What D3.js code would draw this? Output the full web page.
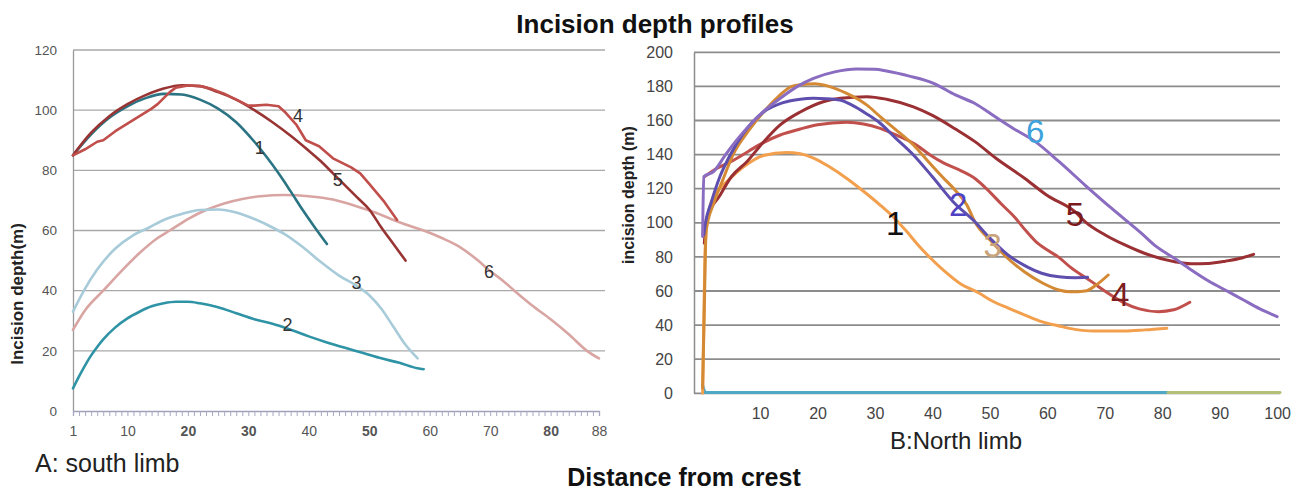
<!DOCTYPE html>
<html>
<head>
<meta charset="utf-8">
<script src="https://cdn.jsdelivr.net/npm/d3@7"></script>
<style>
  body { margin: 0; background: #fff; }
  text { font-family: "Liberation Sans", Arial, sans-serif; }
</style>
</head>
<body>
<script>
"use strict";

// ---- A: south limb (distance category 1..88, depth m) ----
var southCats = d3.range(1, 89);
var southXLabels = [1, 10, 20, 30, 40, 50, 60, 70, 80, 88];
var southYTicks = [0, 20, 40, 60, 80, 100, 120];

var south1 = [[1,85],[4,92],[7,97.5],[10,101.3],[13,104],[16,105.4],[19,105.2],[22,103.5],[25,100.5],[28,96],[31,89.5],[33,84.5],[35,79],[37,73],[39,66.8],[41,61],[43,55.5]];
var south2 = [[1,7.5],[2,11.5],[3,15.2],[4,18.5],[5,21.3],[6,23.8],[8,27.8],[10,30.8],[12,33],[14,34.8],[16,35.8],[18,36.3],[20,36.3],[22,35.8],[25,34.5],[28,32.5],[31,30.5],[34,29],[37,27],[40,24.8],[43,22.8],[46,21],[49,19.3],[52,17.5],[55,16],[58,14.2],[59,13.9]];
var south3 = [[1,33],[2.8,40],[5,47],[8,54],[11,58.5],[13.6,61],[16,63.5],[19,65.5],[22,66.8],[25,67],[28,66],[31,63.8],[34,61],[36,58.8],[39,54.5],[42,49.5],[45,45],[48,41.5],[50,38.5],[52,34],[54,28],[56,22],[58,17.5]];
var south4 = [[1,85],[3,87],[5,89.5],[6,90],[8,93],[10,95.5],[12,98],[14,100.5],[15,102],[16,104],[17,106],[18,107.5],[20,108.2],[22,108],[24,107],[26,105.5],[28,103.5],[30,101.5],[31,101.5],[33,101.8],[35,101.3],[36,99.5],[38,95],[39.5,90],[41.7,88],[44,84],[47,81],[48.5,79],[50,75.5],[52.5,69.5],[54.6,63.5]];
var south5 = [[1,85],[4,92.5],[7,98],[10,102],[13,105],[16,107.2],[19,108.3],[22,108],[25,106],[28,103.5],[31,100],[34,96],[37,91.5],[40,86.5],[42,83],[44,79],[46,75],[48,71],[50,67],[52,61],[54,55.5],[56,50]];
var south6 = [[1,27],[3,33.5],[6,40],[9,46.5],[12,52.5],[15,57.5],[17,60],[20,63.8],[23,66.8],[26,69],[29,70.5],[32,71.4],[36,71.8],[40,71.4],[44,70.3],[48,68],[51,66],[54,63.5],[57,61.3],[59,60],[62,57.5],[65,54.5],[68,50],[70,46.5],[72,43.5],[74,40],[77,35],[80,30.5],[83,25.5],[86,20],[88,17.5]];
var southLabels = [["1",31.9,87.4],["2",36.5,28.6],["3",47.9,42.6],["4",38.2,98],["5",44.8,76.8],["6",69.8,46.2]];

// ---- B: north limb (distance 0..100, depth m) ----
var northXLabels = [10, 20, 30, 40, 50, 60, 70, 80, 90, 100];
var northYTicks = [0, 20, 40, 60, 80, 100, 120, 140, 160, 180, 200];

var north1 = [[0,0],[0.2,40],[0.4,80],[0.7,98],[1.3,110],[3,120],[4.8,126],[7,132.5],[10.6,139.5],[14.6,141.3],[17,140.5],[19.3,138],[22,133],[25.1,126],[28,118.5],[30.9,110.4],[33,104],[35.5,95],[37.5,87],[39.6,79.5],[42,72],[45,64],[48,59],[50.5,54],[53.2,50],[56,46],[59,42],[62,39.5],[64.8,37.5],[68,36.5],[73.5,36.5],[77,37.2],[80.8,38.2]];
var north2 = [[0.2,93],[0.5,100],[1.5,112],[3,127],[4.8,139.8],[7,152],[10.6,165],[14,170.5],[17,172.5],[19.3,173],[21.5,172.8],[23.9,172],[26,169],[28.5,164],[30.9,158.4],[33.5,150],[36.7,139.8],[40,127],[43.6,112.4],[47.4,100.6],[50,91],[53.2,81],[56,75],[59,70.4],[62,68.3],[64.8,67.8],[67,68]];
var north3 = [[0,3],[0.3,50],[0.6,95],[2,112],[3.5,125],[5.3,140],[8,154],[10.6,165],[13,173.5],[15.2,179.5],[17,181],[19.5,181.5],[22,180],[25,176],[28.6,169],[31,162],[33.5,155],[36.7,145.6],[39,137],[42,126],[44,119],[46,110.4],[47.4,100.5],[50.3,89],[53,79.5],[56,71.3],[59,65],[62,60.6],[64,59.5],[66.6,60],[68.5,63.5],[70.6,69.4]];
var north4 = [[0.3,127],[2,131],[5,136],[8,142],[10,146],[13.5,151.5],[17,155],[20,157.5],[25.1,159],[28,158],[30.9,155.4],[34,151],[37,146],[39.6,139.8],[42,135],[45,130.5],[47.4,126],[50,118],[52,111],[54.4,103],[56.1,96],[58,89],[60,84],[61.9,80],[64,74],[67.7,65.5],[70,60],[73.5,52.8],[76,49.5],[79.3,47.9],[82,49],[84.8,53.4]];
var north5 = [[0.3,88],[0.7,102.6],[3,116],[5,127],[7.7,135.8],[10.5,147],[13.5,157.4],[17,165],[21,171],[24,173],[28.6,174],[32,172.5],[36.7,168],[40,163],[44,155],[47.4,147.6],[51,138],[56.1,126],[60,116],[64.8,106.5],[66.6,100.6],[70,93],[73.5,87],[77,82],[82.2,77.2],[85,76],[88,76.2],[91,77.5],[94,79.5],[95.9,81.5]];
var north6 = [[0,92],[0.2,127],[1.9,130],[4,140],[7.7,155.4],[10.5,165],[13.5,173],[16.5,180],[19.3,184.7],[23,188.5],[26.8,190.2],[30,190],[32,189],[36,186],[40.2,181.8],[44,175],[47.4,170],[51,162],[54,155.5],[57.9,147.6],[62,136],[66.6,122],[71,109],[76.4,93.8],[79,86],[82.2,79],[85,72.5],[88,66],[91.5,59.6],[94,55],[97,49.5],[100,45]];
var north7 = [[0,5],[0.5,0.5],[81,0.5]];
var north8 = [[81,0.5],[100.5,0.5]];
var northLabels = [["1",33.5,99.3],["2",44.5,110.5],["3",50.5,86.4],["4",72.7,57.7],["5",64.8,104.6],["6",57.9,153.8]];

var svg = d3.select("body").append("svg")
    .attr("width", 1301).attr("height", 491)
    .style("background", "#fff");

// ===== left panel =====
var xA = d3.scaleLinear().domain([1, 88]).range([73, 599]);
var yA = d3.scaleLinear().domain([0, 120]).range([411, 50]);

svg.append("g").selectAll("line").data(southYTicks.filter(function(d){ return d > 0; })).join("line")
    .attr("x1", 73).attr("x2", 605)
    .attr("y1", function(d){ return yA(d); }).attr("y2", function(d){ return yA(d); })
    .attr("stroke", "#a9a9a9").attr("stroke-width", 1.3);

var axYA = svg.append("g").attr("transform", "translate(73,0)")
    .call(d3.axisLeft(yA).tickValues(southYTicks).tickSize(0).tickPadding(16));
axYA.select(".domain").attr("stroke", "#999").attr("stroke-width", 1.3);
axYA.selectAll("text").attr("font-size", 13.5).attr("fill", "#555");

var axXA = svg.append("g").attr("transform", "translate(0,411)")
    .call(d3.axisBottom(xA).tickValues(southCats).tickSize(5).tickPadding(10)
        .tickFormat(function(d){ return southXLabels.indexOf(d) >= 0 ? d : ""; }));
axXA.select(".domain").attr("stroke", "#a0a0b8").attr("stroke-width", 1.3);
axXA.selectAll(".tick line").attr("stroke", "#a8a8c4");
axXA.selectAll("text").attr("font-size", 14).attr("fill", "#555")
    .attr("font-weight", function(d){ return [20, 30, 50, 80].indexOf(d) >= 0 ? "bold" : "normal"; });

var lineA = d3.line().x(function(d){ return xA(d[0]); }).y(function(d){ return yA(d[1]); })
    .curve(d3.curveMonotoneX);
var lineAraw = d3.line().x(function(d){ return xA(d[0]); }).y(function(d){ return yA(d[1]); });

var southSeries = [
    {data: south6, color: "#d9a5a3", raw: false},
    {data: south3, color: "#a8cbd9", raw: false},
    {data: south2, color: "#2f93a6", raw: false},
    {data: south1, color: "#2b7484", raw: false},
    {data: south5, color: "#983534", raw: false},
    {data: south4, color: "#c04e4b", raw: true}
];
svg.append("g").selectAll("path").data(southSeries).join("path")
    .attr("d", function(s){ return s.raw ? lineAraw(s.data) : lineA(s.data); })
    .attr("fill", "none").attr("stroke", function(s){ return s.color; })
    .attr("stroke-width", 2.6).attr("stroke-linejoin", "round").attr("stroke-linecap", "round");

svg.append("g").selectAll("text").data(southLabels).join("text")
    .attr("x", function(d){ return xA(d[1]); }).attr("y", function(d){ return yA(d[2]); })
    .attr("text-anchor", "middle").attr("dominant-baseline", "central")
    .attr("font-size", 18).attr("fill", "#333").text(function(d){ return d[0]; });

svg.append("text").attr("transform", "translate(23,294) rotate(-90)")
    .attr("text-anchor", "middle").attr("font-size", 17).attr("font-weight", "bold")
    .attr("fill", "#222").text("Incision depth(m)");

svg.append("text").attr("x", 35).attr("y", 472).attr("font-size", 25).attr("fill", "#222")
    .text("A: south limb");

// ===== right panel =====
var xB = d3.scaleLinear().domain([-1.5, 100.5]).range([694, 1280]);
var yB = d3.scaleLinear().domain([0, 200]).range([393.3, 52.3]);

svg.append("g").selectAll("line").data(northYTicks).join("line")
    .attr("x1", 694).attr("x2", 1280)
    .attr("y1", function(d){ return yB(d); }).attr("y2", function(d){ return yB(d); })
    .attr("stroke", "#8c8c8c").attr("stroke-width", 1.8);

var axYB = svg.append("g").attr("transform", "translate(694,0)")
    .call(d3.axisLeft(yB).tickValues(northYTicks).tickSize(0).tickPadding(21));
axYB.select(".domain").attr("stroke", "#8c8c8c").attr("stroke-width", 1.5);
axYB.selectAll("text").attr("font-size", 16).attr("fill", "#444");

var axXB = svg.append("g").attr("transform", "translate(0,393.3)")
    .call(d3.axisBottom(xB).tickValues(northXLabels).tickSize(0).tickPadding(14));
axXB.select(".domain").remove();
axXB.selectAll("text").attr("font-size", 16).attr("fill", "#444");

var lineB = d3.line().x(function(d){ return xB(d[0]); }).y(function(d){ return yB(d[1]); })
    .curve(d3.curveMonotoneX);

var northSeries = [
    {data: north7, color: "#4fa8c4"},
    {data: north8, color: "#b4bf78"},
    {data: north1, color: "#f3a04e"},
    {data: north4, color: "#c1504c"},
    {data: north5, color: "#9a3033"},
    {data: north3, color: "#d48a34"},
    {data: north2, color: "#5e4fae"},
    {data: north6, color: "#8a6cc0"}
];
svg.append("g").selectAll("path").data(northSeries).join("path")
    .attr("d", function(s){ return lineB(s.data); })
    .attr("fill", "none").attr("stroke", function(s){ return s.color; })
    .attr("stroke-width", 3).attr("stroke-linejoin", "round").attr("stroke-linecap", "round");

var northLabelColors = ["#111", "#4f43c4", "#c9a37a", "#7c1d22", "#7a1a1c", "#3ea2dc"];
svg.append("g").selectAll("text").data(northLabels).join("text")
    .attr("x", function(d){ return xB(d[1]); }).attr("y", function(d){ return yB(d[2]); })
    .attr("text-anchor", "middle").attr("dominant-baseline", "central")
    .attr("font-size", 33).attr("fill", function(d, i){ return northLabelColors[i]; })
    .text(function(d){ return d[0]; });

svg.append("text").attr("transform", "translate(634,195) rotate(-90)")
    .attr("text-anchor", "middle").attr("font-size", 16).attr("font-weight", "bold")
    .attr("fill", "#222").text("incision depth (m)");

svg.append("text").attr("x", 956).attr("y", 449).attr("text-anchor", "middle")
    .attr("font-size", 24).attr("fill", "#222").text("B:North limb");

// ===== titles =====
svg.append("text").attr("x", 655).attr("y", 33).attr("text-anchor", "middle")
    .attr("font-size", 26).attr("font-weight", "bold").attr("fill", "#111")
    .text("Incision depth profiles");

svg.append("text").attr("x", 684).attr("y", 486).attr("text-anchor", "middle")
    .attr("font-size", 25).attr("font-weight", "bold").attr("fill", "#111")
    .text("Distance from crest");
</script>
</body>
</html>
